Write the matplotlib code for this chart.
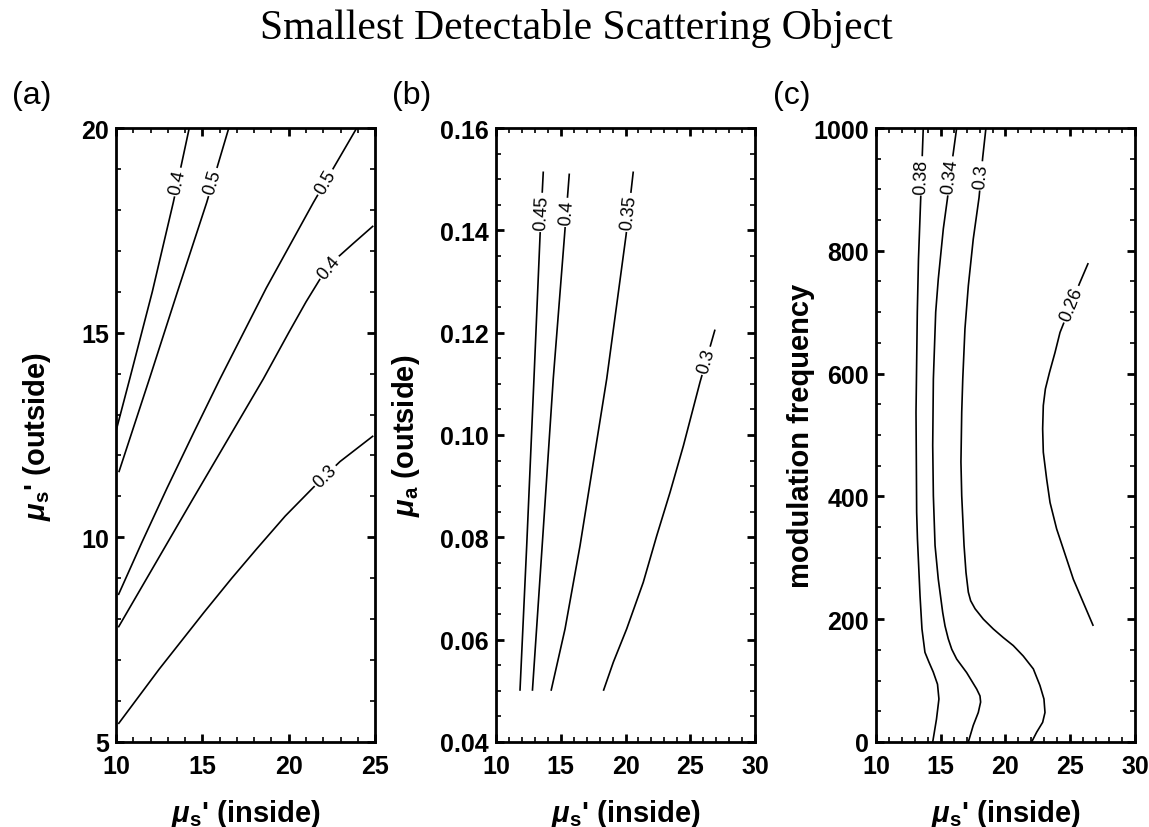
import numpy as np
import matplotlib
matplotlib.use("Agg")
import matplotlib.pyplot as plt
from matplotlib.ticker import MultipleLocator, FormatStrFormatter

plt.rcParams["font.family"] = ["Liberation Sans", "DejaVu Sans"]
plt.rcParams["mathtext.fontset"] = "custom"
plt.rcParams["mathtext.rm"] = "Liberation Sans"
plt.rcParams["mathtext.it"] = "Liberation Sans:italic"
plt.rcParams["mathtext.bf"] = "Liberation Sans:bold"
plt.rcParams["mathtext.bfit"] = "Liberation Sans:italic:bold"

# (a) mu_s' outside vs mu_s' inside, contours
A_LEVELS = ["0.4", "0.5", "0.5", "0.4", "0.3"]
A_X = [
    [10.0, 10.81, 12.1, 13.32, 14.24],
    [10.16, 11.97, 13.55, 15.25, 16.53],
    [10.13, 11.5, 12.95, 14.5, 16.02, 18.7, 21.43, 23.94],
    [10.13, 14.4, 18.53, 20.0, 21.0, 21.8, 22.6, 23.74, 24.9],
    [10.13, 12.5, 15.1, 16.7, 18.15, 19.8, 21.43, 22.97, 24.9],
]
A_Y = [
    [12.6, 13.9, 16.0, 18.19, 20.0],
    [11.59, 13.92, 15.99, 18.18, 20.0],
    [8.59, 9.88, 11.2, 12.56, 13.87, 16.09, 18.18, 20.0],
    [7.80, 10.9, 13.87, 15.0, 15.75, 16.3, 16.75, 17.18, 17.61],
    [5.44, 6.78, 8.17, 9.0, 9.72, 10.52, 11.22, 11.85, 12.48],
]
A_LABEL_Y = [18.68, 18.68, 18.68, 16.6, 11.50]

# (b) mu_a outside vs mu_s' inside
B_LEVELS = ["0.45", "0.4", "0.35", "0.3"]
B_X = [
    [11.85, 12.37, 12.93, 13.40, 13.65],
    [12.81, 13.65, 14.42, 15.25, 15.66],
    [14.25, 15.33, 16.49, 17.52, 18.55, 20.04, 20.60],
    [18.29, 19.06, 20.09, 21.37, 22.41, 23.44, 24.47, 25.75, 26.91],
]
B_Y = [
    [0.05, 0.0784, 0.111, 0.139, 0.1515],
    [0.05, 0.0816, 0.111, 0.1377, 0.1511],
    [0.05, 0.0621, 0.0784, 0.0947, 0.111, 0.139, 0.1515],
    [0.05, 0.0556, 0.0621, 0.0712, 0.0803, 0.0888, 0.0979, 0.1103, 0.1206],
]
B_LABEL_Y = [0.1435, 0.1435, 0.1435, 0.1145]

# (c) modulation frequency vs mu_s' inside
C_LEVELS = ["0.38", "0.34", "0.3", "0.26"]
C_X = [
    [14.38, 14.67, 14.86, 14.75, 14.42, 14.09, 13.78, 13.55, 13.40, 13.20,
     13.14, 13.09, 13.19, 13.28, 13.45, 13.65],
    [17.13, 17.51, 17.90, 18.08, 18.03, 17.78, 17.00, 16.23, 15.85, 15.58,
     15.33, 15.15, 14.81, 14.56, 14.43, 14.38, 14.43, 14.61, 14.81, 15.20,
     15.51, 15.92, 16.23],
    [22.02, 22.41, 22.87, 23.05, 22.97, 22.66, 22.15, 21.37, 20.60, 19.83,
     19.06, 18.29, 17.65, 17.31, 17.13, 16.95, 16.80, 16.62, 16.56, 16.62,
     16.70, 16.87, 17.13, 17.51, 17.96, 18.24, 18.49],
    [26.78, 26.01, 25.24, 24.47, 23.95, 23.44, 23.18, 22.92, 22.87, 22.92,
     23.08, 23.40, 23.82, 24.21, 25.70, 26.39],
]
C_Y = [
    [0, 37, 70, 94, 114, 130, 146, 184, 238, 331, 374, 537, 700, 786, 884, 1000],
    [0, 27, 48, 65, 75, 86, 113, 135, 151, 168, 189, 211, 265, 320, 401, 483,
     591, 700, 754, 836, 884, 952, 1000],
    [0, 16, 32, 48, 70, 92, 119, 140, 157, 170, 184, 200, 217, 230, 244, 276,
     320, 401, 456, 537, 591, 673, 743, 819, 887, 952, 1000],
    [189, 227, 265, 314, 347, 390, 428, 472, 510, 548, 575, 602, 634, 667, 746, 780],
]
C_LABEL_Y = [922, 922, 922, 713]

TITLE = "Smallest Detectable Scattering Object"
MU_S_INSIDE = r"$\mathbfit{\mu}_\mathbf{s}$' (inside)"


def style_axes(ax, xlim, ylim, xmaj, xmin, ymaj, ymin, yfmt):
    ax.set_xlim(*xlim)
    ax.set_ylim(*ylim)
    ax.xaxis.set_major_locator(MultipleLocator(xmaj))
    ax.xaxis.set_minor_locator(MultipleLocator(xmin))
    ax.yaxis.set_major_locator(MultipleLocator(ymaj))
    ax.yaxis.set_minor_locator(MultipleLocator(ymin))
    ax.yaxis.set_major_formatter(FormatStrFormatter(yfmt))
    ax.xaxis.set_major_formatter(FormatStrFormatter("%d"))
    for side in ax.spines.values():
        side.set_linewidth(2.0)
    ax.tick_params(which="both", direction="in", top=True, right=True)
    ax.tick_params(which="major", length=6, width=2.0, labelsize=18)
    ax.tick_params(which="minor", length=3.5, width=1.2)
    ax.tick_params(axis="x", which="major", pad=9)
    ax.tick_params(axis="y", which="major", pad=5)
    for lab in ax.get_xticklabels() + ax.get_yticklabels():
        lab.set_fontweight("bold")


def draw_contours(ax, levels, xs, ys, label_ys):
    for level, x, y, ly in zip(levels, xs, ys, label_ys):
        x = np.asarray(x, dtype=float)
        y = np.asarray(y, dtype=float)
        ax.plot(x, y, color="black", linewidth=1.2, solid_capstyle="butt",
                solid_joinstyle="round")
        lx = np.interp(ly, y, x)
        # angle of the line around the label, in screen space
        dy = (y.max() - y.min()) * 0.03
        p0 = ax.transData.transform((np.interp(ly - dy, y, x), ly - dy))
        p1 = ax.transData.transform((np.interp(ly + dy, y, x), ly + dy))
        angle = np.degrees(np.arctan2(p1[1] - p0[1], p1[0] - p0[0]))
        if angle > 90:
            angle -= 180
        elif angle < -90:
            angle += 180
        ax.text(lx, ly, level, fontsize=13, rotation=angle, rotation_mode="anchor",
                ha="center", va="center",
                bbox=dict(facecolor="white", edgecolor="none", pad=1.5))


fig = plt.figure(figsize=(11.49, 8.28), dpi=100)
ax_a = fig.add_axes([0.101, 0.1027, 0.2254, 0.7415])
ax_b = fig.add_axes([0.4317, 0.1027, 0.2254, 0.7415])
ax_c = fig.add_axes([0.7624, 0.1027, 0.2254, 0.7415])

style_axes(ax_a, (10, 25), (5, 20), 5, 1, 5, 1, "%d")
style_axes(ax_b, (10, 30), (0.04, 0.16), 5, 1, 0.02, 0.005, "%.2f")
style_axes(ax_c, (10, 30), (0, 1000), 5, 1, 200, 50, "%d")

draw_contours(ax_a, A_LEVELS, A_X, A_Y, A_LABEL_Y)
draw_contours(ax_b, B_LEVELS, B_X, B_Y, B_LABEL_Y)
draw_contours(ax_c, C_LEVELS, C_X, C_Y, C_LABEL_Y)

for ax in (ax_a, ax_b, ax_c):
    ax.set_xlabel(MU_S_INSIDE, fontsize=21, fontweight="bold")
    ax.xaxis.set_label_coords(0.5, -0.09)

ax_a.set_ylabel(r"$\mathbfit{\mu}_\mathbf{s}$' (outside)", fontsize=21, fontweight="bold")
ax_a.yaxis.set_label_coords(-0.243, 0.5)
ax_b.set_ylabel(r"$\mathbfit{\mu}_\mathbf{a}$ (outside)", fontsize=21, fontweight="bold")
ax_b.yaxis.set_label_coords(-0.286, 0.5)
ax_c.set_ylabel("modulation frequency", fontsize=21, fontweight="bold")
ax_c.yaxis.set_label_coords(-0.236, 0.5)

fig.text(0.5013, 0.953, TITLE, family="Liberation Serif", fontsize=30,
         ha="center", va="baseline")
for x, letter in [(0.0104, "(a)"), (0.341, "(b)"), (0.673, "(c)")]:
    fig.text(x, 0.874, letter, fontsize=23, ha="left", va="baseline")

fig.savefig("out.png", dpi=100)
plt.close(fig)
